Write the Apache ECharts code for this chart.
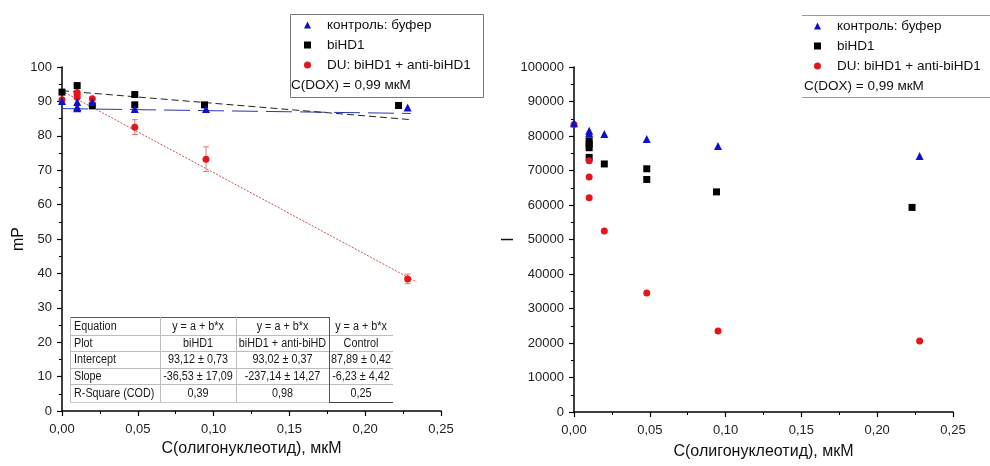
<!DOCTYPE html>
<html>
<head>
<meta charset="utf-8">
<script src="https://cdn.jsdelivr.net/npm/echarts@6/dist/echarts.min.js"></script>
<style>html,body{margin:0;padding:0;background:#fff}#c{width:990px;height:466px}</style>
</head>
<body>
<div id="c"></div>
<script>
// ---------- data (left panel, mP) ----------
const seriesNames = ['контроль: буфер', 'biHD1', 'DU: biHD1 + anti-biHD1'];
const ctrlX = [0, 0.01, 0.01, 0.01, 0.02, 0.048, 0.095, 0.228];
const ctrlY = [90.1, 89.8, 88.4, 88.0, 89.8, 87.8, 87.8, 88.2];
const biX = [0, 0.01, 0.02, 0.048, 0.048, 0.094, 0.222];
const biY = [92.7, 94.6, 88.7, 92.0, 89.0, 89.0, 88.8];
const duX = [0, 0.01, 0.01, 0.01, 0.02, 0.048, 0.095, 0.228];
const duY = [90.5, 92.6, 92.0, 91.2, 90.8, 82.5, 73.2, 38.4];
const duErrX = [0.048, 0.095, 0.228];
const duErrLow = [80.4, 69.6, 37.0];
const duErrHigh = [84.7, 76.8, 39.8];
// fitted lines (endpoints)
const fitCtrlX = [0, 0.23];
const fitCtrlY = [87.9, 86.5];
const fitBiX = [0, 0.23];
const fitBiY = [93.1, 84.7];
const fitDuX = [0, 0.234];
const fitDuY = [93.0, 37.5];
// ---------- data (right panel, I) ----------
const rCtrlX = [0, 0.01, 0.01, 0.02, 0.048, 0.095, 0.228];
const rCtrlY = [83700, 81500, 80800, 80600, 79100, 77100, 74200];
const rBiX = [0.01, 0.01, 0.01, 0.01, 0.02, 0.048, 0.048, 0.094, 0.223];
const rBiY = [78600, 77600, 76600, 73800, 71900, 70500, 67400, 63800, 59300];
const rDuX = [0, 0.01, 0.01, 0.01, 0.02, 0.048, 0.095, 0.228];
const rDuY = [83300, 72800, 68100, 62100, 52500, 34500, 23500, 20600];
// ---------- text ----------
const xAxisName = 'C(олигонуклеотид), мкМ';
const leftYName = 'mP';
const rightYName = 'I';
const doxNote = 'C(DOX) = 0,99 мкМ';
const tableRowHeads = ['Equation', 'Plot', 'Intercept', 'Slope', 'R-Square (COD)'];
const tableCol1 = ['y = a + b*x', 'biHD1', '93,12 ± 0,73', '-36,53 ± 17,09', '0,39'];
const tableCol2 = ['y = a + b*x', 'biHD1 + anti-biHD', '93,02 ± 0,37', '-237,14 ± 14,27', '0,98'];
const tableCol3 = ['y = a + b*x', 'Control', '87,89 ± 0,42', '-6,23 ± 4,42', '0,25'];

const FONT = '"Liberation Sans", Arial, sans-serif';
const BLUE = '#1010c8', BLACK = '#000000', RED = '#e3161c';
const zip = (xs, ys) => xs.map((x, i) => [x, ys[i]]);

function xAxisCfg(gridIndex, gap) {
  return {
    type: 'value', gridIndex, min: 0, max: 0.25, interval: 0.05,
    name: xAxisName, nameLocation: 'middle', nameGap: gap,
    nameTextStyle: { fontSize: 16, fontFamily: FONT, color: '#111' },
    axisLine: { show: true, onZero: false, lineStyle: { color: '#000', width: 1.5 } },
    axisTick: { show: true, inside: false, length: 5, lineStyle: { color: '#000', width: 1.2 } },
    minorTick: { show: true, splitNumber: 2, length: 3, lineStyle: { color: '#000', width: 1 } },
    axisLabel: { fontSize: 13, fontFamily: FONT, color: '#222', margin: 12,
      formatter: v => v.toFixed(2).replace('.', ',') },
    splitLine: { show: false }, minorSplitLine: { show: false }
  };
}
function yAxisCfg(gridIndex, max, interval, name, gap) {
  return {
    type: 'value', gridIndex, min: 0, max, interval,
    name, nameLocation: 'middle', nameGap: gap,
    nameTextStyle: { fontSize: 16, fontFamily: FONT, color: '#111' },
    axisLine: { show: true, onZero: false, lineStyle: { color: '#000', width: 1.5 } },
    axisTick: { show: true, inside: false, length: 5, lineStyle: { color: '#000', width: 1.2 } },
    minorTick: { show: true, splitNumber: 2, length: 3, lineStyle: { color: '#000', width: 1 } },
    axisLabel: { fontSize: 13, fontFamily: FONT, color: '#222', margin: 10, formatter: v => String(v) },
    splitLine: { show: false }, minorSplitLine: { show: false }
  };
}

// ---------- table graphic ----------
const tRowY = [317, 335, 351, 368, 384, 402];
const tColX = [70, 160, 236, 329, 393];
const tableEls = [];
function hline(x1, x2, y, c) { tableEls.push({ type: 'line', shape: { x1, y1: y, x2, y2: y }, style: { stroke: c, lineWidth: 1 }, silent: true }); }
function vline(x, y1, y2, c) { tableEls.push({ type: 'line', shape: { x1: x, y1, x2: x, y2 }, style: { stroke: c, lineWidth: 1 }, silent: true }); }
tableEls.push({ type: 'rect', shape: { x: tColX[0], y: tRowY[0], width: tColX[4] - tColX[0], height: tRowY[5] - tRowY[0] }, style: { fill: '#fff' }, silent: true });
for (let r = 1; r < 5; r++) hline(tColX[0], tColX[4], tRowY[r] + 0.5, '#bdbdbd');
hline(tColX[0], tColX[3], tRowY[0] + 0.5, '#555');
hline(tColX[0], tColX[3], tRowY[5] + 0.5, '#c8c8c8');
hline(tColX[3], tColX[4], tRowY[5] + 0.5, '#444');
vline(tColX[0] + 0.5, tRowY[0], tRowY[5], '#bdbdbd');
vline(tColX[1] + 0.5, tRowY[0], tRowY[5], '#bdbdbd');
vline(tColX[2] + 0.5, tRowY[0], tRowY[5], '#bdbdbd');
vline(tColX[3] + 0.5, tRowY[0], tRowY[5], '#555');
const tCols = [tableCol1, tableCol2, tableCol3];
for (let r = 0; r < 5; r++) {
  const cy = (tRowY[r] + tRowY[r + 1]) / 2 + 0.5;
  tableEls.push({ type: 'text', x: tColX[0] + 4, y: cy, scaleX: 0.9, style: { text: tableRowHeads[r], font: '12px ' + FONT, fill: '#1a1a1a', textAlign: 'left', textVerticalAlign: 'middle' }, silent: true });
  for (let c = 0; c < 3; c++) {
    tableEls.push({ type: 'text', x: (tColX[c + 1] + tColX[c + 2]) / 2, y: cy, scaleX: 0.9, style: { text: tCols[c][r], font: '12px ' + FONT, fill: '#1a1a1a', textAlign: 'center', textVerticalAlign: 'middle' }, silent: true });
  }
}

const chart = echarts.init(document.getElementById('c'), null, { renderer: 'canvas' });
const legendBase = {
  orient: 'vertical', itemWidth: 7, itemHeight: 7, itemGap: 6, padding: 0, selectedMode: false,
  symbolKeepAspect: true,
  textStyle: { fontSize: 13.5, fontFamily: FONT, color: '#111', lineHeight: 14, padding: [0, 0, 0, 11] },
  data: seriesNames
};
chart.setOption({
  animation: false,
  backgroundColor: '#fff',
  grid: [
    { left: 62, right: 549, top: 67, bottom: 55 },
    { left: 574, right: 37, top: 67, bottom: 54 }
  ],
  xAxis: [xAxisCfg(0, 29), xAxisCfg(1, 32)],
  yAxis: [yAxisCfg(0, 100, 10, leftYName, 30), yAxisCfg(1, 100000, 10000, rightYName, 48)],
  legend: [
    Object.assign({}, legendBase, { left: 304, top: 18 }),
    Object.assign({}, legendBase, { left: 814, top: 19 })
  ],
  graphic: [
    { type: 'rect', shape: { x: 290.5, y: 14.5, width: 193, height: 83 }, style: { fill: 'none', stroke: '#777', lineWidth: 1 }, z: -1, silent: true },
    { type: 'text', x: 291, y: 85, style: { text: doxNote, font: '13.5px ' + FONT, fill: '#111', textVerticalAlign: 'middle' }, silent: true },
    { type: 'line', shape: { x1: 802, y1: 15.5, x2: 990, y2: 15.5 }, style: { stroke: '#999', lineWidth: 1 }, silent: true },
    { type: 'line', shape: { x1: 802, y1: 97.5, x2: 990, y2: 97.5 }, style: { stroke: '#999', lineWidth: 1 }, silent: true },
    { type: 'text', x: 804, y: 86, style: { text: doxNote, font: '13.5px ' + FONT, fill: '#111', textVerticalAlign: 'middle' }, silent: true },
    { type: 'group', children: tableEls, z: 100 }
  ],
  series: [
    // fit lines
    { name: 'fitCtrl', type: 'line', xAxisIndex: 0, yAxisIndex: 0, data: zip(fitCtrlX, fitCtrlY), showSymbol: false, lineStyle: { color: '#2a36b0', width: 1, type: [26, 8] }, z: 2, silent: true },
    { name: 'fitBi', type: 'line', xAxisIndex: 0, yAxisIndex: 0, data: zip(fitBiX, fitBiY), showSymbol: false, lineStyle: { color: '#222', width: 1, type: [7, 4] }, z: 2, silent: true },
    { name: 'fitDu', type: 'line', xAxisIndex: 0, yAxisIndex: 0, data: zip(fitDuX, fitDuY), showSymbol: false, lineStyle: { color: '#c85050', width: 1, type: [2, 1.5] }, z: 2, silent: true },
    // error bars
    { name: 'errDu', type: 'custom', xAxisIndex: 0, yAxisIndex: 0, z: 3, silent: true,
      data: duErrX.map((x, i) => [x, duErrLow[i], duErrHigh[i]]),
      renderItem: (params, api) => {
        const lo = api.coord([api.value(0), api.value(1)]);
        const hi = api.coord([api.value(0), api.value(2)]);
        const st = { stroke: '#e07a7a', lineWidth: 1 };
        return { type: 'group', children: [
          { type: 'line', shape: { x1: lo[0], y1: lo[1], x2: hi[0], y2: hi[1] }, style: st },
          { type: 'line', shape: { x1: hi[0] - 3, y1: hi[1], x2: hi[0] + 3, y2: hi[1] }, style: st },
          { type: 'line', shape: { x1: lo[0] - 3, y1: lo[1], x2: lo[0] + 3, y2: lo[1] }, style: st }
        ] };
      } },
    // left scatter
    { name: seriesNames[0], type: 'scatter', xAxisIndex: 0, yAxisIndex: 0, data: zip(ctrlX, ctrlY), symbol: 'triangle', symbolSize: 8, itemStyle: { color: BLUE, opacity: 1 }, z: 5 },
    { name: seriesNames[1], type: 'scatter', xAxisIndex: 0, yAxisIndex: 0, data: zip(biX, biY), symbol: 'rect', symbolSize: 7, itemStyle: { color: BLACK, opacity: 1 }, z: 4 },
    { name: seriesNames[2], type: 'scatter', xAxisIndex: 0, yAxisIndex: 0, data: zip(duX, duY), symbol: 'circle', symbolSize: 7, itemStyle: { color: RED, opacity: 1 }, z: 4 },
    // right scatter
    { name: seriesNames[0], type: 'scatter', xAxisIndex: 1, yAxisIndex: 1, data: zip(rCtrlX, rCtrlY), symbol: 'triangle', symbolSize: 8, itemStyle: { color: BLUE, opacity: 1 }, z: 5 },
    { name: seriesNames[1], type: 'scatter', xAxisIndex: 1, yAxisIndex: 1, data: zip(rBiX, rBiY), symbol: 'rect', symbolSize: 7, itemStyle: { color: BLACK, opacity: 1 }, z: 4 },
    { name: seriesNames[2], type: 'scatter', xAxisIndex: 1, yAxisIndex: 1, data: zip(rDuX, rDuY), symbol: 'circle', symbolSize: 7, itemStyle: { color: RED, opacity: 1 }, z: 4 }
  ]
});
</script>
</body>
</html>
